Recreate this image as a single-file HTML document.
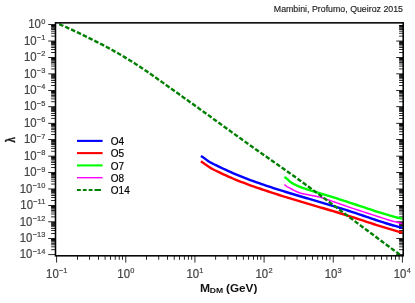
<!DOCTYPE html>
<html><head><meta charset="utf-8"><title>plot</title>
<style>
html,body{margin:0;padding:0;background:#fff;}
body{width:415px;height:303px;overflow:hidden;}
svg{display:block;}
text{font-family:"Liberation Sans",sans-serif;}
</style></head><body>
<svg width="415" height="303" viewBox="0 0 415 303">
<rect width="415" height="303" fill="#fff"/>
<g fill="#000">
<rect x="51.1" y="25" width="4.40" height="1" fill-opacity="1.00"/>
<rect x="399.1" y="25" width="4.10" height="1" fill-opacity="1.00"/>
<rect x="51.1" y="26" width="4.40" height="1" fill-opacity="0.90"/>
<rect x="399.1" y="26" width="4.10" height="1" fill-opacity="0.90"/>
<rect x="51.1" y="27" width="4.40" height="1" fill-opacity="0.70"/>
<rect x="399.1" y="27" width="4.10" height="1" fill-opacity="0.70"/>
<rect x="51.1" y="28" width="4.40" height="1" fill-opacity="0.73"/>
<rect x="399.1" y="28" width="4.10" height="1" fill-opacity="0.73"/>
<rect x="51.1" y="29" width="4.40" height="1" fill-opacity="0.84"/>
<rect x="399.1" y="29" width="4.10" height="1" fill-opacity="0.84"/>
<rect x="51.1" y="30" width="4.40" height="1" fill-opacity="0.25"/>
<rect x="399.1" y="30" width="4.10" height="1" fill-opacity="0.25"/>
<rect x="51.1" y="31" width="4.40" height="1" fill-opacity="0.58"/>
<rect x="399.1" y="31" width="4.10" height="1" fill-opacity="0.58"/>
<rect x="51.1" y="32" width="4.40" height="1" fill-opacity="0.18"/>
<rect x="399.1" y="32" width="4.10" height="1" fill-opacity="0.18"/>
<rect x="51.1" y="33" width="4.40" height="1" fill-opacity="0.66"/>
<rect x="399.1" y="33" width="4.10" height="1" fill-opacity="0.66"/>
<rect x="51.1" y="35" width="4.40" height="1" fill-opacity="0.32"/>
<rect x="399.1" y="35" width="4.10" height="1" fill-opacity="0.32"/>
<rect x="51.1" y="36" width="4.40" height="1" fill-opacity="0.51"/>
<rect x="399.1" y="36" width="4.10" height="1" fill-opacity="0.51"/>
<rect x="51.1" y="41" width="4.40" height="1" fill-opacity="0.73"/>
<rect x="399.1" y="41" width="4.10" height="1" fill-opacity="0.73"/>
<rect x="51.1" y="42" width="4.40" height="1" fill-opacity="0.95"/>
<rect x="399.1" y="42" width="4.10" height="1" fill-opacity="0.95"/>
<rect x="51.1" y="43" width="4.40" height="1" fill-opacity="0.84"/>
<rect x="399.1" y="43" width="4.10" height="1" fill-opacity="0.84"/>
<rect x="51.1" y="44" width="4.40" height="1" fill-opacity="0.84"/>
<rect x="399.1" y="44" width="4.10" height="1" fill-opacity="0.84"/>
<rect x="51.1" y="45" width="4.40" height="1" fill-opacity="0.46"/>
<rect x="399.1" y="45" width="4.10" height="1" fill-opacity="0.46"/>
<rect x="51.1" y="46" width="4.40" height="1" fill-opacity="0.38"/>
<rect x="399.1" y="46" width="4.10" height="1" fill-opacity="0.38"/>
<rect x="51.1" y="47" width="4.40" height="1" fill-opacity="0.84"/>
<rect x="399.1" y="47" width="4.10" height="1" fill-opacity="0.84"/>
<rect x="51.1" y="49" width="4.40" height="1" fill-opacity="0.84"/>
<rect x="399.1" y="49" width="4.10" height="1" fill-opacity="0.84"/>
<rect x="51.1" y="52" width="4.40" height="1" fill-opacity="0.84"/>
<rect x="399.1" y="52" width="4.10" height="1" fill-opacity="0.84"/>
<rect x="51.1" y="57" width="4.40" height="1" fill-opacity="0.13"/>
<rect x="399.1" y="57" width="4.10" height="1" fill-opacity="0.13"/>
<rect x="51.1" y="58" width="4.40" height="1" fill-opacity="1.00"/>
<rect x="399.1" y="58" width="4.10" height="1" fill-opacity="1.00"/>
<rect x="51.1" y="59" width="4.40" height="1" fill-opacity="0.90"/>
<rect x="399.1" y="59" width="4.10" height="1" fill-opacity="0.90"/>
<rect x="51.1" y="60" width="4.40" height="1" fill-opacity="0.70"/>
<rect x="399.1" y="60" width="4.10" height="1" fill-opacity="0.70"/>
<rect x="51.1" y="61" width="4.40" height="1" fill-opacity="0.56"/>
<rect x="399.1" y="61" width="4.10" height="1" fill-opacity="0.56"/>
<rect x="51.1" y="62" width="4.40" height="1" fill-opacity="0.84"/>
<rect x="399.1" y="62" width="4.10" height="1" fill-opacity="0.84"/>
<rect x="51.1" y="63" width="4.40" height="1" fill-opacity="0.42"/>
<rect x="399.1" y="63" width="4.10" height="1" fill-opacity="0.42"/>
<rect x="51.1" y="64" width="4.40" height="1" fill-opacity="0.42"/>
<rect x="399.1" y="64" width="4.10" height="1" fill-opacity="0.42"/>
<rect x="51.1" y="65" width="4.40" height="1" fill-opacity="0.34"/>
<rect x="399.1" y="65" width="4.10" height="1" fill-opacity="0.34"/>
<rect x="51.1" y="66" width="4.40" height="1" fill-opacity="0.49"/>
<rect x="399.1" y="66" width="4.10" height="1" fill-opacity="0.49"/>
<rect x="51.1" y="68" width="4.40" height="1" fill-opacity="0.48"/>
<rect x="399.1" y="68" width="4.10" height="1" fill-opacity="0.48"/>
<rect x="51.1" y="69" width="4.40" height="1" fill-opacity="0.35"/>
<rect x="399.1" y="69" width="4.10" height="1" fill-opacity="0.35"/>
<rect x="51.1" y="74" width="4.40" height="1" fill-opacity="0.84"/>
<rect x="399.1" y="74" width="4.10" height="1" fill-opacity="0.84"/>
<rect x="51.1" y="75" width="4.40" height="1" fill-opacity="0.84"/>
<rect x="399.1" y="75" width="4.10" height="1" fill-opacity="0.84"/>
<rect x="51.1" y="76" width="4.40" height="1" fill-opacity="0.84"/>
<rect x="399.1" y="76" width="4.10" height="1" fill-opacity="0.84"/>
<rect x="51.1" y="77" width="4.40" height="1" fill-opacity="0.84"/>
<rect x="399.1" y="77" width="4.10" height="1" fill-opacity="0.84"/>
<rect x="51.1" y="78" width="4.40" height="1" fill-opacity="0.62"/>
<rect x="399.1" y="78" width="4.10" height="1" fill-opacity="0.62"/>
<rect x="51.1" y="79" width="4.40" height="1" fill-opacity="0.21"/>
<rect x="399.1" y="79" width="4.10" height="1" fill-opacity="0.21"/>
<rect x="51.1" y="80" width="4.40" height="1" fill-opacity="0.84"/>
<rect x="399.1" y="80" width="4.10" height="1" fill-opacity="0.84"/>
<rect x="51.1" y="82" width="4.40" height="1" fill-opacity="0.84"/>
<rect x="399.1" y="82" width="4.10" height="1" fill-opacity="0.84"/>
<rect x="51.1" y="85" width="4.40" height="1" fill-opacity="0.84"/>
<rect x="399.1" y="85" width="4.10" height="1" fill-opacity="0.84"/>
<rect x="51.1" y="90" width="4.40" height="1" fill-opacity="0.29"/>
<rect x="399.1" y="90" width="4.10" height="1" fill-opacity="0.29"/>
<rect x="51.1" y="91" width="4.40" height="1" fill-opacity="1.00"/>
<rect x="399.1" y="91" width="4.10" height="1" fill-opacity="1.00"/>
<rect x="51.1" y="92" width="4.40" height="1" fill-opacity="0.90"/>
<rect x="399.1" y="92" width="4.10" height="1" fill-opacity="0.90"/>
<rect x="51.1" y="93" width="4.40" height="1" fill-opacity="0.70"/>
<rect x="399.1" y="93" width="4.10" height="1" fill-opacity="0.70"/>
<rect x="51.1" y="94" width="4.40" height="1" fill-opacity="0.43"/>
<rect x="399.1" y="94" width="4.10" height="1" fill-opacity="0.43"/>
<rect x="51.1" y="95" width="4.40" height="1" fill-opacity="0.81"/>
<rect x="399.1" y="95" width="4.10" height="1" fill-opacity="0.81"/>
<rect x="51.1" y="96" width="4.40" height="1" fill-opacity="0.58"/>
<rect x="399.1" y="96" width="4.10" height="1" fill-opacity="0.58"/>
<rect x="51.1" y="97" width="4.40" height="1" fill-opacity="0.26"/>
<rect x="399.1" y="97" width="4.10" height="1" fill-opacity="0.26"/>
<rect x="51.1" y="98" width="4.40" height="1" fill-opacity="0.50"/>
<rect x="399.1" y="98" width="4.10" height="1" fill-opacity="0.50"/>
<rect x="51.1" y="99" width="4.40" height="1" fill-opacity="0.33"/>
<rect x="399.1" y="99" width="4.10" height="1" fill-opacity="0.33"/>
<rect x="51.1" y="101" width="4.40" height="1" fill-opacity="0.65"/>
<rect x="399.1" y="101" width="4.10" height="1" fill-opacity="0.65"/>
<rect x="51.1" y="102" width="4.40" height="1" fill-opacity="0.19"/>
<rect x="399.1" y="102" width="4.10" height="1" fill-opacity="0.19"/>
<rect x="51.1" y="107" width="4.40" height="1" fill-opacity="0.84"/>
<rect x="399.1" y="107" width="4.10" height="1" fill-opacity="0.84"/>
<rect x="51.1" y="108" width="4.40" height="1" fill-opacity="0.84"/>
<rect x="399.1" y="108" width="4.10" height="1" fill-opacity="0.84"/>
<rect x="51.1" y="109" width="4.40" height="1" fill-opacity="0.84"/>
<rect x="399.1" y="109" width="4.10" height="1" fill-opacity="0.84"/>
<rect x="51.1" y="110" width="4.40" height="1" fill-opacity="0.84"/>
<rect x="399.1" y="110" width="4.10" height="1" fill-opacity="0.84"/>
<rect x="51.1" y="111" width="4.40" height="1" fill-opacity="0.78"/>
<rect x="399.1" y="111" width="4.10" height="1" fill-opacity="0.78"/>
<rect x="51.1" y="112" width="4.40" height="1" fill-opacity="0.05"/>
<rect x="399.1" y="112" width="4.10" height="1" fill-opacity="0.05"/>
<rect x="51.1" y="113" width="4.40" height="1" fill-opacity="0.84"/>
<rect x="399.1" y="113" width="4.10" height="1" fill-opacity="0.84"/>
<rect x="51.1" y="115" width="4.40" height="1" fill-opacity="0.84"/>
<rect x="399.1" y="115" width="4.10" height="1" fill-opacity="0.84"/>
<rect x="51.1" y="117" width="4.40" height="1" fill-opacity="0.05"/>
<rect x="399.1" y="117" width="4.10" height="1" fill-opacity="0.05"/>
<rect x="51.1" y="118" width="4.40" height="1" fill-opacity="0.78"/>
<rect x="399.1" y="118" width="4.10" height="1" fill-opacity="0.78"/>
<rect x="51.1" y="123" width="4.40" height="1" fill-opacity="0.46"/>
<rect x="399.1" y="123" width="4.10" height="1" fill-opacity="0.46"/>
<rect x="51.1" y="124" width="4.40" height="1" fill-opacity="1.00"/>
<rect x="399.1" y="124" width="4.10" height="1" fill-opacity="1.00"/>
<rect x="51.1" y="125" width="4.40" height="1" fill-opacity="0.90"/>
<rect x="399.1" y="125" width="4.10" height="1" fill-opacity="0.90"/>
<rect x="51.1" y="126" width="4.40" height="1" fill-opacity="0.70"/>
<rect x="399.1" y="126" width="4.10" height="1" fill-opacity="0.70"/>
<rect x="51.1" y="127" width="4.40" height="1" fill-opacity="0.43"/>
<rect x="399.1" y="127" width="4.10" height="1" fill-opacity="0.43"/>
<rect x="51.1" y="128" width="4.40" height="1" fill-opacity="0.65"/>
<rect x="399.1" y="128" width="4.10" height="1" fill-opacity="0.65"/>
<rect x="51.1" y="129" width="4.40" height="1" fill-opacity="0.74"/>
<rect x="399.1" y="129" width="4.10" height="1" fill-opacity="0.74"/>
<rect x="51.1" y="130" width="4.40" height="1" fill-opacity="0.10"/>
<rect x="399.1" y="130" width="4.10" height="1" fill-opacity="0.10"/>
<rect x="51.1" y="131" width="4.40" height="1" fill-opacity="0.67"/>
<rect x="399.1" y="131" width="4.10" height="1" fill-opacity="0.67"/>
<rect x="51.1" y="132" width="4.40" height="1" fill-opacity="0.17"/>
<rect x="399.1" y="132" width="4.10" height="1" fill-opacity="0.17"/>
<rect x="51.1" y="134" width="4.40" height="1" fill-opacity="0.81"/>
<rect x="399.1" y="134" width="4.10" height="1" fill-opacity="0.81"/>
<rect x="51.1" y="135" width="4.40" height="1" fill-opacity="0.03"/>
<rect x="399.1" y="135" width="4.10" height="1" fill-opacity="0.03"/>
<rect x="51.1" y="140" width="4.40" height="1" fill-opacity="0.91"/>
<rect x="399.1" y="140" width="4.10" height="1" fill-opacity="0.91"/>
<rect x="51.1" y="141" width="4.40" height="1" fill-opacity="0.90"/>
<rect x="399.1" y="141" width="4.10" height="1" fill-opacity="0.90"/>
<rect x="51.1" y="142" width="4.40" height="1" fill-opacity="0.70"/>
<rect x="399.1" y="142" width="4.10" height="1" fill-opacity="0.70"/>
<rect x="51.1" y="143" width="4.40" height="1" fill-opacity="0.83"/>
<rect x="399.1" y="143" width="4.10" height="1" fill-opacity="0.83"/>
<rect x="51.1" y="144" width="4.40" height="1" fill-opacity="0.84"/>
<rect x="399.1" y="144" width="4.10" height="1" fill-opacity="0.84"/>
<rect x="51.1" y="145" width="4.40" height="1" fill-opacity="0.15"/>
<rect x="399.1" y="145" width="4.10" height="1" fill-opacity="0.15"/>
<rect x="51.1" y="146" width="4.40" height="1" fill-opacity="0.69"/>
<rect x="399.1" y="146" width="4.10" height="1" fill-opacity="0.69"/>
<rect x="51.1" y="147" width="4.40" height="1" fill-opacity="0.07"/>
<rect x="399.1" y="147" width="4.10" height="1" fill-opacity="0.07"/>
<rect x="51.1" y="148" width="4.40" height="1" fill-opacity="0.76"/>
<rect x="399.1" y="148" width="4.10" height="1" fill-opacity="0.76"/>
<rect x="51.1" y="150" width="4.40" height="1" fill-opacity="0.21"/>
<rect x="399.1" y="150" width="4.10" height="1" fill-opacity="0.21"/>
<rect x="51.1" y="151" width="4.40" height="1" fill-opacity="0.62"/>
<rect x="399.1" y="151" width="4.10" height="1" fill-opacity="0.62"/>
<rect x="51.1" y="156" width="4.40" height="1" fill-opacity="0.62"/>
<rect x="399.1" y="156" width="4.10" height="1" fill-opacity="0.62"/>
<rect x="51.1" y="157" width="4.40" height="1" fill-opacity="1.00"/>
<rect x="399.1" y="157" width="4.10" height="1" fill-opacity="1.00"/>
<rect x="51.1" y="158" width="4.40" height="1" fill-opacity="0.84"/>
<rect x="399.1" y="158" width="4.10" height="1" fill-opacity="0.84"/>
<rect x="51.1" y="159" width="4.40" height="1" fill-opacity="0.76"/>
<rect x="399.1" y="159" width="4.10" height="1" fill-opacity="0.76"/>
<rect x="51.1" y="160" width="4.40" height="1" fill-opacity="0.43"/>
<rect x="399.1" y="160" width="4.10" height="1" fill-opacity="0.43"/>
<rect x="51.1" y="161" width="4.40" height="1" fill-opacity="0.48"/>
<rect x="399.1" y="161" width="4.10" height="1" fill-opacity="0.48"/>
<rect x="51.1" y="162" width="4.40" height="1" fill-opacity="0.84"/>
<rect x="399.1" y="162" width="4.10" height="1" fill-opacity="0.84"/>
<rect x="51.1" y="164" width="4.40" height="1" fill-opacity="0.83"/>
<rect x="399.1" y="164" width="4.10" height="1" fill-opacity="0.83"/>
<rect x="51.1" y="165" width="4.40" height="1" fill-opacity="0.01"/>
<rect x="399.1" y="165" width="4.10" height="1" fill-opacity="0.01"/>
<rect x="51.1" y="167" width="4.40" height="1" fill-opacity="0.84"/>
<rect x="399.1" y="167" width="4.10" height="1" fill-opacity="0.84"/>
<rect x="51.1" y="172" width="4.40" height="1" fill-opacity="0.02"/>
<rect x="399.1" y="172" width="4.10" height="1" fill-opacity="0.02"/>
<rect x="51.1" y="173" width="4.40" height="1" fill-opacity="1.00"/>
<rect x="399.1" y="173" width="4.10" height="1" fill-opacity="1.00"/>
<rect x="51.1" y="174" width="4.40" height="1" fill-opacity="0.90"/>
<rect x="399.1" y="174" width="4.10" height="1" fill-opacity="0.90"/>
<rect x="51.1" y="175" width="4.40" height="1" fill-opacity="0.70"/>
<rect x="399.1" y="175" width="4.10" height="1" fill-opacity="0.70"/>
<rect x="51.1" y="176" width="4.40" height="1" fill-opacity="0.67"/>
<rect x="399.1" y="176" width="4.10" height="1" fill-opacity="0.67"/>
<rect x="51.1" y="177" width="4.40" height="1" fill-opacity="0.84"/>
<rect x="399.1" y="177" width="4.10" height="1" fill-opacity="0.84"/>
<rect x="51.1" y="178" width="4.40" height="1" fill-opacity="0.31"/>
<rect x="399.1" y="178" width="4.10" height="1" fill-opacity="0.31"/>
<rect x="51.1" y="179" width="4.40" height="1" fill-opacity="0.53"/>
<rect x="399.1" y="179" width="4.10" height="1" fill-opacity="0.53"/>
<rect x="51.1" y="180" width="4.40" height="1" fill-opacity="0.23"/>
<rect x="399.1" y="180" width="4.10" height="1" fill-opacity="0.23"/>
<rect x="51.1" y="181" width="4.40" height="1" fill-opacity="0.60"/>
<rect x="399.1" y="181" width="4.10" height="1" fill-opacity="0.60"/>
<rect x="51.1" y="183" width="4.40" height="1" fill-opacity="0.38"/>
<rect x="399.1" y="183" width="4.10" height="1" fill-opacity="0.38"/>
<rect x="51.1" y="184" width="4.40" height="1" fill-opacity="0.46"/>
<rect x="399.1" y="184" width="4.10" height="1" fill-opacity="0.46"/>
<rect x="51.1" y="189" width="4.40" height="1" fill-opacity="0.78"/>
<rect x="399.1" y="189" width="4.10" height="1" fill-opacity="0.78"/>
<rect x="51.1" y="190" width="4.40" height="1" fill-opacity="0.89"/>
<rect x="399.1" y="190" width="4.10" height="1" fill-opacity="0.89"/>
<rect x="51.1" y="191" width="4.40" height="1" fill-opacity="0.84"/>
<rect x="399.1" y="191" width="4.10" height="1" fill-opacity="0.84"/>
<rect x="51.1" y="192" width="4.40" height="1" fill-opacity="0.84"/>
<rect x="399.1" y="192" width="4.10" height="1" fill-opacity="0.84"/>
<rect x="51.1" y="193" width="4.40" height="1" fill-opacity="0.51"/>
<rect x="399.1" y="193" width="4.10" height="1" fill-opacity="0.51"/>
<rect x="51.1" y="194" width="4.40" height="1" fill-opacity="0.32"/>
<rect x="399.1" y="194" width="4.10" height="1" fill-opacity="0.32"/>
<rect x="51.1" y="195" width="4.40" height="1" fill-opacity="0.84"/>
<rect x="399.1" y="195" width="4.10" height="1" fill-opacity="0.84"/>
<rect x="51.1" y="197" width="4.40" height="1" fill-opacity="0.84"/>
<rect x="399.1" y="197" width="4.10" height="1" fill-opacity="0.84"/>
<rect x="51.1" y="200" width="4.40" height="1" fill-opacity="0.84"/>
<rect x="399.1" y="200" width="4.10" height="1" fill-opacity="0.84"/>
<rect x="51.1" y="205" width="4.40" height="1" fill-opacity="0.19"/>
<rect x="399.1" y="205" width="4.10" height="1" fill-opacity="0.19"/>
<rect x="51.1" y="206" width="4.40" height="1" fill-opacity="1.00"/>
<rect x="399.1" y="206" width="4.10" height="1" fill-opacity="1.00"/>
<rect x="51.1" y="207" width="4.40" height="1" fill-opacity="0.90"/>
<rect x="399.1" y="207" width="4.10" height="1" fill-opacity="0.90"/>
<rect x="51.1" y="208" width="4.40" height="1" fill-opacity="0.70"/>
<rect x="399.1" y="208" width="4.10" height="1" fill-opacity="0.70"/>
<rect x="51.1" y="209" width="4.40" height="1" fill-opacity="0.51"/>
<rect x="399.1" y="209" width="4.10" height="1" fill-opacity="0.51"/>
<rect x="51.1" y="210" width="4.40" height="1" fill-opacity="0.84"/>
<rect x="399.1" y="210" width="4.10" height="1" fill-opacity="0.84"/>
<rect x="51.1" y="211" width="4.40" height="1" fill-opacity="0.47"/>
<rect x="399.1" y="211" width="4.10" height="1" fill-opacity="0.47"/>
<rect x="51.1" y="212" width="4.40" height="1" fill-opacity="0.37"/>
<rect x="399.1" y="212" width="4.10" height="1" fill-opacity="0.37"/>
<rect x="51.1" y="213" width="4.40" height="1" fill-opacity="0.40"/>
<rect x="399.1" y="213" width="4.10" height="1" fill-opacity="0.40"/>
<rect x="51.1" y="214" width="4.40" height="1" fill-opacity="0.44"/>
<rect x="399.1" y="214" width="4.10" height="1" fill-opacity="0.44"/>
<rect x="51.1" y="216" width="4.40" height="1" fill-opacity="0.54"/>
<rect x="399.1" y="216" width="4.10" height="1" fill-opacity="0.54"/>
<rect x="51.1" y="217" width="4.40" height="1" fill-opacity="0.30"/>
<rect x="399.1" y="217" width="4.10" height="1" fill-opacity="0.30"/>
<rect x="51.1" y="222" width="4.40" height="1" fill-opacity="0.84"/>
<rect x="399.1" y="222" width="4.10" height="1" fill-opacity="0.84"/>
<rect x="51.1" y="223" width="4.40" height="1" fill-opacity="0.84"/>
<rect x="399.1" y="223" width="4.10" height="1" fill-opacity="0.84"/>
<rect x="51.1" y="224" width="4.40" height="1" fill-opacity="0.84"/>
<rect x="399.1" y="224" width="4.10" height="1" fill-opacity="0.84"/>
<rect x="51.1" y="225" width="4.40" height="1" fill-opacity="0.84"/>
<rect x="399.1" y="225" width="4.10" height="1" fill-opacity="0.84"/>
<rect x="51.1" y="226" width="4.40" height="1" fill-opacity="0.68"/>
<rect x="399.1" y="226" width="4.10" height="1" fill-opacity="0.68"/>
<rect x="51.1" y="227" width="4.40" height="1" fill-opacity="0.16"/>
<rect x="399.1" y="227" width="4.10" height="1" fill-opacity="0.16"/>
<rect x="51.1" y="228" width="4.40" height="1" fill-opacity="0.84"/>
<rect x="399.1" y="228" width="4.10" height="1" fill-opacity="0.84"/>
<rect x="51.1" y="230" width="4.40" height="1" fill-opacity="0.84"/>
<rect x="399.1" y="230" width="4.10" height="1" fill-opacity="0.84"/>
<rect x="51.1" y="233" width="4.40" height="1" fill-opacity="0.84"/>
<rect x="399.1" y="233" width="4.10" height="1" fill-opacity="0.84"/>
<rect x="51.1" y="238" width="4.40" height="1" fill-opacity="0.35"/>
<rect x="399.1" y="238" width="4.10" height="1" fill-opacity="0.35"/>
<rect x="51.1" y="239" width="4.40" height="1" fill-opacity="1.00"/>
<rect x="399.1" y="239" width="4.10" height="1" fill-opacity="1.00"/>
<rect x="51.1" y="240" width="4.40" height="1" fill-opacity="0.90"/>
<rect x="399.1" y="240" width="4.10" height="1" fill-opacity="0.90"/>
<rect x="51.1" y="241" width="4.40" height="1" fill-opacity="0.70"/>
<rect x="399.1" y="241" width="4.10" height="1" fill-opacity="0.70"/>
<rect x="51.1" y="242" width="4.40" height="1" fill-opacity="0.43"/>
<rect x="399.1" y="242" width="4.10" height="1" fill-opacity="0.43"/>
<rect x="51.1" y="243" width="4.40" height="1" fill-opacity="0.75"/>
<rect x="399.1" y="243" width="4.10" height="1" fill-opacity="0.75"/>
<rect x="51.1" y="244" width="4.40" height="1" fill-opacity="0.63"/>
<rect x="399.1" y="244" width="4.10" height="1" fill-opacity="0.63"/>
<rect x="51.1" y="245" width="4.40" height="1" fill-opacity="0.21"/>
<rect x="399.1" y="245" width="4.10" height="1" fill-opacity="0.21"/>
<rect x="51.1" y="246" width="4.40" height="1" fill-opacity="0.56"/>
<rect x="399.1" y="246" width="4.10" height="1" fill-opacity="0.56"/>
<rect x="51.1" y="247" width="4.40" height="1" fill-opacity="0.28"/>
<rect x="399.1" y="247" width="4.10" height="1" fill-opacity="0.28"/>
<rect x="51.1" y="249" width="4.40" height="1" fill-opacity="0.70"/>
<rect x="399.1" y="249" width="4.10" height="1" fill-opacity="0.70"/>
<rect x="51.1" y="250" width="4.40" height="1" fill-opacity="0.14"/>
<rect x="399.1" y="250" width="4.10" height="1" fill-opacity="0.14"/>
<rect x="48.2" y="24" width="7.30" height="1" fill-opacity="0.84"/>
<rect x="48.2" y="40" width="7.30" height="1" fill-opacity="0.39"/>
<rect x="396.2" y="40" width="7.00" height="1" fill-opacity="0.39"/>
<rect x="48.2" y="41" width="7.30" height="1" fill-opacity="0.45"/>
<rect x="396.2" y="41" width="7.00" height="1" fill-opacity="0.45"/>
<rect x="48.2" y="57" width="7.30" height="1" fill-opacity="0.84"/>
<rect x="396.2" y="57" width="7.00" height="1" fill-opacity="0.84"/>
<rect x="48.2" y="73" width="7.30" height="1" fill-opacity="0.55"/>
<rect x="396.2" y="73" width="7.00" height="1" fill-opacity="0.55"/>
<rect x="48.2" y="74" width="7.30" height="1" fill-opacity="0.28"/>
<rect x="396.2" y="74" width="7.00" height="1" fill-opacity="0.28"/>
<rect x="48.2" y="90" width="7.30" height="1" fill-opacity="0.84"/>
<rect x="396.2" y="90" width="7.00" height="1" fill-opacity="0.84"/>
<rect x="48.2" y="106" width="7.30" height="1" fill-opacity="0.72"/>
<rect x="396.2" y="106" width="7.00" height="1" fill-opacity="0.72"/>
<rect x="48.2" y="107" width="7.30" height="1" fill-opacity="0.12"/>
<rect x="396.2" y="107" width="7.00" height="1" fill-opacity="0.12"/>
<rect x="48.2" y="122" width="7.30" height="1" fill-opacity="0.12"/>
<rect x="396.2" y="122" width="7.00" height="1" fill-opacity="0.12"/>
<rect x="48.2" y="123" width="7.30" height="1" fill-opacity="0.72"/>
<rect x="396.2" y="123" width="7.00" height="1" fill-opacity="0.72"/>
<rect x="48.2" y="139" width="7.30" height="1" fill-opacity="0.84"/>
<rect x="396.2" y="139" width="7.00" height="1" fill-opacity="0.84"/>
<rect x="48.2" y="155" width="7.30" height="1" fill-opacity="0.28"/>
<rect x="396.2" y="155" width="7.00" height="1" fill-opacity="0.28"/>
<rect x="48.2" y="156" width="7.30" height="1" fill-opacity="0.55"/>
<rect x="396.2" y="156" width="7.00" height="1" fill-opacity="0.55"/>
<rect x="48.2" y="172" width="7.30" height="1" fill-opacity="0.84"/>
<rect x="396.2" y="172" width="7.00" height="1" fill-opacity="0.84"/>
<rect x="48.2" y="188" width="7.30" height="1" fill-opacity="0.45"/>
<rect x="396.2" y="188" width="7.00" height="1" fill-opacity="0.45"/>
<rect x="48.2" y="189" width="7.30" height="1" fill-opacity="0.39"/>
<rect x="396.2" y="189" width="7.00" height="1" fill-opacity="0.39"/>
<rect x="48.2" y="205" width="7.30" height="1" fill-opacity="0.84"/>
<rect x="396.2" y="205" width="7.00" height="1" fill-opacity="0.84"/>
<rect x="48.2" y="221" width="7.30" height="1" fill-opacity="0.61"/>
<rect x="396.2" y="221" width="7.00" height="1" fill-opacity="0.61"/>
<rect x="48.2" y="222" width="7.30" height="1" fill-opacity="0.23"/>
<rect x="396.2" y="222" width="7.00" height="1" fill-opacity="0.23"/>
<rect x="48.2" y="237" width="7.30" height="1" fill-opacity="0.01"/>
<rect x="396.2" y="237" width="7.00" height="1" fill-opacity="0.01"/>
<rect x="48.2" y="238" width="7.30" height="1" fill-opacity="0.82"/>
<rect x="396.2" y="238" width="7.00" height="1" fill-opacity="0.82"/>
<rect x="48.2" y="254" width="7.30" height="1" fill-opacity="0.77"/>
<rect x="396.2" y="254" width="7.00" height="1" fill-opacity="0.77"/>
<rect x="48.2" y="255" width="7.30" height="1" fill-opacity="0.07"/>
<rect x="396.2" y="255" width="7.00" height="1" fill-opacity="0.07"/>
<rect x="77" y="255.80" width="1" height="4.00" fill-opacity="0.84"/>
<rect x="89" y="255.80" width="1" height="4.00" fill-opacity="0.80"/>
<rect x="90" y="255.80" width="1" height="4.00" fill-opacity="0.04"/>
<rect x="98" y="255.80" width="1" height="4.00" fill-opacity="0.84"/>
<rect x="104" y="255.80" width="1" height="4.00" fill-opacity="0.35"/>
<rect x="105" y="255.80" width="1" height="4.00" fill-opacity="0.48"/>
<rect x="110" y="255.80" width="1" height="4.00" fill-opacity="0.84"/>
<rect x="114" y="255.80" width="1" height="4.00" fill-opacity="0.22"/>
<rect x="115" y="255.80" width="1" height="4.00" fill-opacity="0.62"/>
<rect x="118" y="255.80" width="1" height="4.00" fill-opacity="0.21"/>
<rect x="119" y="255.80" width="1" height="4.00" fill-opacity="0.63"/>
<rect x="122" y="255.80" width="1" height="4.00" fill-opacity="0.84"/>
<rect x="146" y="255.80" width="1" height="4.00" fill-opacity="0.84"/>
<rect x="158" y="255.80" width="1" height="4.00" fill-opacity="0.66"/>
<rect x="159" y="255.80" width="1" height="4.00" fill-opacity="0.17"/>
<rect x="167" y="255.80" width="1" height="4.00" fill-opacity="0.84"/>
<rect x="173" y="255.80" width="1" height="4.00" fill-opacity="0.22"/>
<rect x="174" y="255.80" width="1" height="4.00" fill-opacity="0.62"/>
<rect x="179" y="255.80" width="1" height="4.00" fill-opacity="0.84"/>
<rect x="183" y="255.80" width="1" height="4.00" fill-opacity="0.09"/>
<rect x="184" y="255.80" width="1" height="4.00" fill-opacity="0.75"/>
<rect x="187" y="255.80" width="1" height="4.00" fill-opacity="0.08"/>
<rect x="188" y="255.80" width="1" height="4.00" fill-opacity="0.76"/>
<rect x="191" y="255.80" width="1" height="4.00" fill-opacity="0.70"/>
<rect x="192" y="255.80" width="1" height="4.00" fill-opacity="0.13"/>
<rect x="215" y="255.80" width="1" height="4.00" fill-opacity="0.75"/>
<rect x="216" y="255.80" width="1" height="4.00" fill-opacity="0.08"/>
<rect x="227" y="255.80" width="1" height="4.00" fill-opacity="0.53"/>
<rect x="228" y="255.80" width="1" height="4.00" fill-opacity="0.31"/>
<rect x="236" y="255.80" width="1" height="4.00" fill-opacity="0.84"/>
<rect x="242" y="255.80" width="1" height="4.00" fill-opacity="0.08"/>
<rect x="243" y="255.80" width="1" height="4.00" fill-opacity="0.75"/>
<rect x="248" y="255.80" width="1" height="4.00" fill-opacity="0.80"/>
<rect x="249" y="255.80" width="1" height="4.00" fill-opacity="0.04"/>
<rect x="253" y="255.80" width="1" height="4.00" fill-opacity="0.84"/>
<rect x="257" y="255.80" width="1" height="4.00" fill-opacity="0.84"/>
<rect x="260" y="255.80" width="1" height="4.00" fill-opacity="0.57"/>
<rect x="261" y="255.80" width="1" height="4.00" fill-opacity="0.27"/>
<rect x="284" y="255.80" width="1" height="4.00" fill-opacity="0.62"/>
<rect x="285" y="255.80" width="1" height="4.00" fill-opacity="0.22"/>
<rect x="296" y="255.80" width="1" height="4.00" fill-opacity="0.39"/>
<rect x="297" y="255.80" width="1" height="4.00" fill-opacity="0.44"/>
<rect x="305" y="255.80" width="1" height="4.00" fill-opacity="0.84"/>
<rect x="312" y="255.80" width="1" height="4.00" fill-opacity="0.84"/>
<rect x="317" y="255.80" width="1" height="4.00" fill-opacity="0.66"/>
<rect x="318" y="255.80" width="1" height="4.00" fill-opacity="0.18"/>
<rect x="322" y="255.80" width="1" height="4.00" fill-opacity="0.84"/>
<rect x="326" y="255.80" width="1" height="4.00" fill-opacity="0.84"/>
<rect x="329" y="255.80" width="1" height="4.00" fill-opacity="0.43"/>
<rect x="330" y="255.80" width="1" height="4.00" fill-opacity="0.40"/>
<rect x="353" y="255.80" width="1" height="4.00" fill-opacity="0.48"/>
<rect x="354" y="255.80" width="1" height="4.00" fill-opacity="0.35"/>
<rect x="365" y="255.80" width="1" height="4.00" fill-opacity="0.26"/>
<rect x="366" y="255.80" width="1" height="4.00" fill-opacity="0.58"/>
<rect x="374" y="255.80" width="1" height="4.00" fill-opacity="0.75"/>
<rect x="375" y="255.80" width="1" height="4.00" fill-opacity="0.08"/>
<rect x="381" y="255.80" width="1" height="4.00" fill-opacity="0.84"/>
<rect x="386" y="255.80" width="1" height="4.00" fill-opacity="0.53"/>
<rect x="387" y="255.80" width="1" height="4.00" fill-opacity="0.31"/>
<rect x="391" y="255.80" width="1" height="4.00" fill-opacity="0.84"/>
<rect x="395" y="255.80" width="1" height="4.00" fill-opacity="0.84"/>
<rect x="398" y="255.80" width="1" height="4.00" fill-opacity="0.30"/>
<rect x="399" y="255.80" width="1" height="4.00" fill-opacity="0.54"/>
<rect x="56" y="255.80" width="1" height="6.80" fill-opacity="0.76"/>
<rect x="57" y="255.80" width="1" height="6.80" fill-opacity="0.08"/>
<rect x="125" y="255.80" width="1" height="6.80" fill-opacity="0.62"/>
<rect x="126" y="255.80" width="1" height="6.80" fill-opacity="0.22"/>
<rect x="194" y="255.80" width="1" height="6.80" fill-opacity="0.49"/>
<rect x="195" y="255.80" width="1" height="6.80" fill-opacity="0.35"/>
<rect x="263" y="255.80" width="1" height="6.80" fill-opacity="0.35"/>
<rect x="264" y="255.80" width="1" height="6.80" fill-opacity="0.49"/>
<rect x="332" y="255.80" width="1" height="6.80" fill-opacity="0.22"/>
<rect x="333" y="255.80" width="1" height="6.80" fill-opacity="0.62"/>
<rect x="401" y="255.80" width="1" height="6.80" fill-opacity="0.08"/>
<rect x="402" y="255.80" width="1" height="6.80" fill-opacity="0.76"/>
</g>
<polyline points="200.9,156.08 203.4,157.59 205.9,159.39 208.4,161.16 210.9,162.68 213.4,164.00 215.9,165.20 218.4,166.38 220.9,167.56 223.4,168.75 225.9,169.92 228.4,171.08 230.9,172.21 233.4,173.31 235.9,174.38 238.4,175.42 240.9,176.44 243.4,177.43 245.9,178.40 248.4,179.34 250.9,180.27 253.4,181.18 255.9,182.08 258.4,182.96 260.9,183.83 263.4,184.69 265.9,185.53 268.4,186.37 270.9,187.20 273.4,188.02 275.9,188.83 278.4,189.63 280.9,190.42 283.4,191.20 285.9,191.98 288.4,192.75 290.9,193.51 293.4,194.27 295.9,195.02 298.4,195.77 300.9,196.51 303.4,197.25 305.9,197.98 308.4,198.71 310.9,199.44 313.4,200.17 315.9,200.90 318.4,201.63 320.9,202.36 323.4,203.09 325.9,203.83 328.4,204.57 330.9,205.31 333.4,206.07 335.9,206.82 338.4,207.59 340.9,208.36 343.4,209.14 345.9,209.94 348.4,210.74 350.9,211.56 353.4,212.38 355.9,213.22 358.4,214.06 360.9,214.91 363.4,215.76 365.9,216.62 368.4,217.47 370.9,218.32 373.4,219.16 375.9,220.00 378.4,220.83 380.9,221.65 383.4,222.45 385.9,223.24 388.4,224.01 390.9,224.77 393.4,225.50 395.9,226.21 398.4,226.89 400.9,227.54 402.5,227.95" fill="none" stroke="#0000ff" stroke-width="2.4" stroke-linejoin="round"/>
<polyline points="200.9,161.17 203.4,162.99 205.9,164.85 208.4,166.59 210.9,168.12 213.4,169.48 215.9,170.73 218.4,171.93 220.9,173.12 223.4,174.29 225.9,175.44 228.4,176.57 230.9,177.66 233.4,178.73 235.9,179.77 238.4,180.78 240.9,181.77 243.4,182.73 245.9,183.67 248.4,184.60 250.9,185.51 253.4,186.40 255.9,187.28 258.4,188.14 260.9,189.00 263.4,189.84 265.9,190.68 268.4,191.51 270.9,192.33 273.4,193.14 275.9,193.95 278.4,194.75 280.9,195.54 283.4,196.32 285.9,197.10 288.4,197.87 290.9,198.64 293.4,199.40 295.9,200.15 298.4,200.90 300.9,201.65 303.4,202.39 305.9,203.13 308.4,203.86 310.9,204.60 313.4,205.33 315.9,206.06 318.4,206.79 320.9,207.53 323.4,208.26 325.9,209.00 328.4,209.73 330.9,210.48 333.4,211.22 335.9,211.98 338.4,212.73 340.9,213.50 343.4,214.27 345.9,215.04 348.4,215.83 350.9,216.63 353.4,217.43 355.9,218.24 358.4,219.06 360.9,219.88 363.4,220.71 365.9,221.53 368.4,222.35 370.9,223.18 373.4,223.99 375.9,224.80 378.4,225.61 380.9,226.40 383.4,227.19 385.9,227.96 388.4,228.71 390.9,229.46 393.4,230.18 395.9,230.89 398.4,231.57 400.9,232.23 402.5,232.64" fill="none" stroke="#ff0000" stroke-width="2.4" stroke-linejoin="round"/>
<polyline points="284.4,176.90 286.9,178.70 289.4,181.08 291.9,183.05 294.4,184.44 296.9,185.52 299.4,186.53 301.9,187.51 304.4,188.45 306.9,189.32 309.4,190.13 311.9,190.90 314.4,191.64 316.9,192.37 319.4,193.10 321.9,193.84 324.4,194.59 326.9,195.35 329.4,196.12 331.9,196.89 334.4,197.68 336.9,198.47 339.4,199.27 341.9,200.08 344.4,200.89 346.9,201.70 349.4,202.52 351.9,203.34 354.4,204.17 356.9,205.00 359.4,205.82 361.9,206.65 364.4,207.48 366.9,208.31 369.4,209.13 371.9,209.96 374.4,210.78 376.9,211.59 379.4,212.39 381.9,213.18 384.4,213.95 386.9,214.71 389.4,215.44 391.9,216.14 394.4,216.82 396.9,217.47 399.4,218.09 401.9,218.67 402.5,218.80" fill="none" stroke="#00ff00" stroke-width="2.4" stroke-linejoin="round"/>
<polyline points="284.4,184.61 286.9,186.54 289.4,187.92 291.9,189.24 294.4,190.57 296.9,191.77 299.4,192.73 301.9,193.47 304.4,194.06 306.9,194.57 309.4,195.04 311.9,195.50 314.4,195.98 316.9,196.51 319.4,197.11 321.9,197.79 324.4,198.54 326.9,199.35 329.4,200.19 331.9,201.07 334.4,201.98 336.9,202.88 339.4,203.79 341.9,204.68 344.4,205.55 346.9,206.40 349.4,207.24 351.9,208.08 354.4,208.90 356.9,209.72 359.4,210.53 361.9,211.34 364.4,212.15 366.9,212.96 369.4,213.77 371.9,214.59 374.4,215.42 376.9,216.24 379.4,217.06 381.9,217.88 384.4,218.67 386.9,219.45 389.4,220.21 391.9,220.95 394.4,221.65 396.9,222.32 399.4,222.95 401.9,223.54 402.5,223.68" fill="none" stroke="#ff00ff" stroke-width="1.45" stroke-linejoin="round"/>
<polyline points="59.2,24.21 61.7,25.26 64.2,26.34 66.7,27.44 69.2,28.56 71.7,29.70 74.2,30.86 76.7,32.03 79.2,33.21 81.7,34.41 84.2,35.63 86.7,36.85 89.2,38.08 91.7,39.33 94.2,40.58 96.7,41.85 99.2,43.13 101.7,44.42 104.2,45.73 106.7,47.05 109.2,48.39 111.7,49.75 114.2,51.13 116.7,52.53 119.2,53.96 121.7,55.41 124.2,56.88 126.7,58.38 129.2,59.91 131.7,61.47 134.2,63.06 136.7,64.68 139.2,66.32 141.7,67.98 144.2,69.66 146.7,71.36 149.2,73.08 151.7,74.81 154.2,76.56 156.7,78.32 159.2,80.09 161.7,81.86 164.2,83.64 166.7,85.42 169.2,87.21 171.7,88.99 174.2,90.77 176.7,92.56 179.2,94.34 181.7,96.12 184.2,97.90 186.7,99.69 189.2,101.47 191.7,103.26 194.2,105.04 196.7,106.83 199.2,108.62 201.7,110.41 204.2,112.21 206.7,114.00 209.2,115.81 211.7,117.61 214.2,119.42 216.7,121.23 219.2,123.04 221.7,124.85 224.2,126.66 226.7,128.48 229.2,130.29 231.7,132.10 234.2,133.90 236.7,135.71 239.2,137.51 241.7,139.31 244.2,141.10 246.7,142.88 249.2,144.66 251.7,146.43 254.2,148.20 256.7,149.96 259.2,151.72 261.7,153.47 264.2,155.22 266.7,156.96 269.2,158.71 271.7,160.46 274.2,162.21 276.7,163.96 279.2,165.71 281.7,167.46 284.2,169.23 286.7,170.99 289.2,172.77 291.7,174.55 294.2,176.34 296.7,178.14 299.2,179.94 301.7,181.75 304.2,183.57 306.7,185.39 309.2,187.22 311.7,189.06 314.2,190.89 316.7,192.74 319.2,194.59 321.7,196.44 324.2,198.29 326.7,200.15 329.2,202.01 331.7,203.88 334.2,205.74 336.7,207.61 339.2,209.48 341.7,211.35 344.2,213.23 346.7,215.10 349.2,216.97 351.7,218.85 354.2,220.72 356.7,222.59 359.2,224.47 361.7,226.34 364.2,228.21 366.7,230.08 369.2,231.95 371.7,233.82 374.2,235.68 376.7,237.54 379.2,239.40 381.7,241.26 384.2,243.11 386.7,244.96 389.2,246.81 391.7,248.65 394.2,250.49 396.7,252.32 399.2,254.15 400.4,255.02" fill="none" stroke="#008000" stroke-width="2.4" stroke-dasharray="4.5 1.97" stroke-linejoin="round"/>
<rect x="55.5" y="22.85" width="347.70" height="232.95" fill="none" stroke="#000" stroke-width="1.55"/>
<line x1="77" y1="140.9" x2="102.6" y2="140.9" stroke="#0000ff" stroke-width="2.1"/>
<line x1="77" y1="153.1" x2="102.6" y2="153.1" stroke="#ff0000" stroke-width="2.1"/>
<line x1="77" y1="165.4" x2="102.6" y2="165.4" stroke="#00ff00" stroke-width="2.1"/>
<line x1="77" y1="177.7" x2="102.6" y2="177.7" stroke="#ff00ff" stroke-width="1.4"/>
<line x1="77" y1="190.0" x2="102.6" y2="190.0" stroke="#008000" stroke-width="2.1" stroke-dasharray="3.8 2.05 3.8 2.05 3.8 2.05 6.4 99"/>
<g style="filter:grayscale(1)">
<text x="110.8" y="145.0" font-size="10" fill="#000" stroke="#000" stroke-width="0.2">O4</text>
<text x="110.8" y="157.2" font-size="10" fill="#000" stroke="#000" stroke-width="0.2">O5</text>
<text x="110.8" y="169.5" font-size="10" fill="#000" stroke="#000" stroke-width="0.2">O7</text>
<text x="110.8" y="181.8" font-size="10" fill="#000" stroke="#000" stroke-width="0.2">O8</text>
<text x="110.8" y="194.1" font-size="10" fill="#000" stroke="#000" stroke-width="0.2">O14</text>
<text x="273.8" y="12.3" font-size="8.6" fill="#222" stroke="#222" stroke-width="0.15" textLength="129.2" lengthAdjust="spacingAndGlyphs">Mambini, Profumo, Queiroz 2015</text>
<text transform="translate(45.3,28.25) scale(0.94,1)" font-size="12.1" fill="#444" stroke="#444" stroke-width="0.22" text-anchor="end">10<tspan font-size="7.9" dx="0.3" dy="-4.7">0</tspan></text>
<text transform="translate(45.3,44.69) scale(0.94,1)" font-size="12.1" fill="#444" stroke="#444" stroke-width="0.22" text-anchor="end">10<tspan font-size="7.9" dx="0.3" dy="-4.7">−1</tspan></text>
<text transform="translate(45.3,61.13) scale(0.94,1)" font-size="12.1" fill="#444" stroke="#444" stroke-width="0.22" text-anchor="end">10<tspan font-size="7.9" dx="0.3" dy="-4.7">−2</tspan></text>
<text transform="translate(45.3,77.57) scale(0.94,1)" font-size="12.1" fill="#444" stroke="#444" stroke-width="0.22" text-anchor="end">10<tspan font-size="7.9" dx="0.3" dy="-4.7">−3</tspan></text>
<text transform="translate(45.3,94.01) scale(0.94,1)" font-size="12.1" fill="#444" stroke="#444" stroke-width="0.22" text-anchor="end">10<tspan font-size="7.9" dx="0.3" dy="-4.7">−4</tspan></text>
<text transform="translate(45.3,110.45) scale(0.94,1)" font-size="12.1" fill="#444" stroke="#444" stroke-width="0.22" text-anchor="end">10<tspan font-size="7.9" dx="0.3" dy="-4.7">−5</tspan></text>
<text transform="translate(45.3,126.89) scale(0.94,1)" font-size="12.1" fill="#444" stroke="#444" stroke-width="0.22" text-anchor="end">10<tspan font-size="7.9" dx="0.3" dy="-4.7">−6</tspan></text>
<text transform="translate(45.3,143.33) scale(0.94,1)" font-size="12.1" fill="#444" stroke="#444" stroke-width="0.22" text-anchor="end">10<tspan font-size="7.9" dx="0.3" dy="-4.7">−7</tspan></text>
<text transform="translate(45.3,159.77) scale(0.94,1)" font-size="12.1" fill="#444" stroke="#444" stroke-width="0.22" text-anchor="end">10<tspan font-size="7.9" dx="0.3" dy="-4.7">−8</tspan></text>
<text transform="translate(45.3,176.21) scale(0.94,1)" font-size="12.1" fill="#444" stroke="#444" stroke-width="0.22" text-anchor="end">10<tspan font-size="7.9" dx="0.3" dy="-4.7">−9</tspan></text>
<text transform="translate(45.3,192.65) scale(0.94,1)" font-size="12.1" fill="#444" stroke="#444" stroke-width="0.22" text-anchor="end">10<tspan font-size="7.9" dx="0.3" dy="-4.7">−10</tspan></text>
<text transform="translate(45.3,209.09) scale(0.94,1)" font-size="12.1" fill="#444" stroke="#444" stroke-width="0.22" text-anchor="end">10<tspan font-size="7.9" dx="0.3" dy="-4.7">−11</tspan></text>
<text transform="translate(45.3,225.53) scale(0.94,1)" font-size="12.1" fill="#444" stroke="#444" stroke-width="0.22" text-anchor="end">10<tspan font-size="7.9" dx="0.3" dy="-4.7">−12</tspan></text>
<text transform="translate(45.3,241.97) scale(0.94,1)" font-size="12.1" fill="#444" stroke="#444" stroke-width="0.22" text-anchor="end">10<tspan font-size="7.9" dx="0.3" dy="-4.7">−13</tspan></text>
<text transform="translate(45.3,258.41) scale(0.94,1)" font-size="12.1" fill="#444" stroke="#444" stroke-width="0.22" text-anchor="end">10<tspan font-size="7.9" dx="0.3" dy="-4.7">−14</tspan></text>
<text transform="translate(56.75,277.7) scale(0.94,1)" font-size="12.1" fill="#444" stroke="#444" stroke-width="0.22" text-anchor="middle">10<tspan font-size="7.9" dx="0.3" dy="-4.7">−1</tspan></text>
<text transform="translate(125.85,277.7) scale(0.94,1)" font-size="12.1" fill="#444" stroke="#444" stroke-width="0.22" text-anchor="middle">10<tspan font-size="7.9" dx="0.3" dy="-4.7">0</tspan></text>
<text transform="translate(194.95,277.7) scale(0.94,1)" font-size="12.1" fill="#444" stroke="#444" stroke-width="0.22" text-anchor="middle">10<tspan font-size="7.9" dx="0.3" dy="-4.7">1</tspan></text>
<text transform="translate(264.05,277.7) scale(0.94,1)" font-size="12.1" fill="#444" stroke="#444" stroke-width="0.22" text-anchor="middle">10<tspan font-size="7.9" dx="0.3" dy="-4.7">2</tspan></text>
<text transform="translate(333.15,277.7) scale(0.94,1)" font-size="12.1" fill="#444" stroke="#444" stroke-width="0.22" text-anchor="middle">10<tspan font-size="7.9" dx="0.3" dy="-4.7">3</tspan></text>
<text transform="translate(402.25,277.7) scale(0.94,1)" font-size="12.1" fill="#444" stroke="#444" stroke-width="0.22" text-anchor="middle">10<tspan font-size="7.9" dx="0.3" dy="-4.7">4</tspan></text>
<text x="199.9" y="292" font-size="11" font-weight="bold" fill="#111" textLength="10.1" lengthAdjust="spacingAndGlyphs">M</text>
<text x="209.8" y="293.1" font-size="6.6" font-weight="bold" fill="#111" textLength="13.4" lengthAdjust="spacingAndGlyphs">DM</text>
<text x="226" y="292" font-size="11" font-weight="bold" fill="#111" textLength="31.4" lengthAdjust="spacingAndGlyphs">(GeV)</text>
<text transform="translate(14.8,142.4) rotate(-90) scale(0.72,1)" font-size="13.6" font-weight="bold" fill="#111" stroke="#111" stroke-width="0.3">λ</text>
</g>
</svg>
</body></html>
